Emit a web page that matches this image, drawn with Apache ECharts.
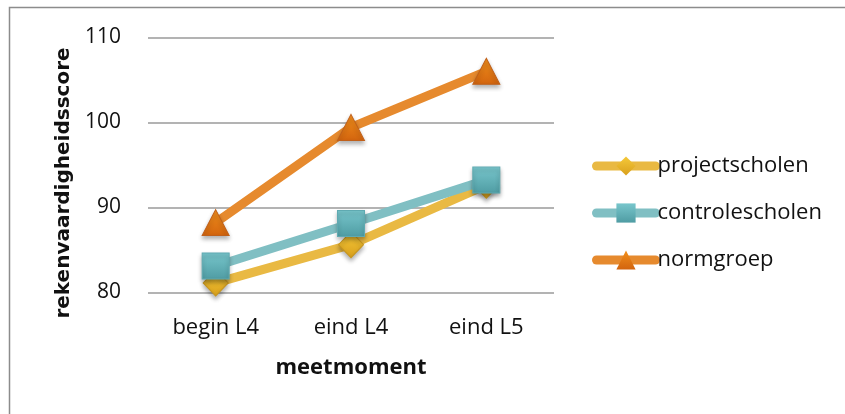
<!DOCTYPE html>
<html>
<head>
<meta charset="utf-8">
<script src="https://cdn.jsdelivr.net/npm/echarts@6/dist/echarts.min.js"></script>
<style>
html,body{margin:0;padding:0;background:#fff;}
#chart{width:845px;height:414px;}
</style>
</head>
<body>
<div id="chart"></div>
<script>
var categories = ['begin L4', 'eind L4', 'eind L5'];
var projectscholen = [81.1, 85.6, 92.6];
var controlescholen = [83.1, 88.1, 93.2];
var normgroep = [88.2, 99.4, 106.0];
var yTicks = [80, 90, 100, 110];
var yTitle = 'rekenvaardigheidsscore';
var xTitle = 'meetmoment';

var chart = echarts.init(document.getElementById('chart'), null, {renderer: 'canvas'});
var labelFont = '"Open Sans", sans-serif';

function grad(top, bottom) {
  return new echarts.graphic.LinearGradient(0, 0, 0, 1, [
    {offset: 0, color: top}, {offset: 1, color: bottom}
  ]);
}
var shadow = {shadowBlur: 4, shadowOffsetY: 3, shadowColor: 'rgba(0,0,0,0.3)'};

function mkSeries(name, data, lineColor, symbol, size, fillTop, fillBottom, border) {
  return {
    name: name,
    type: 'line',
    data: data,
    symbol: symbol,
    symbolSize: size,
    showAllSymbol: true,
    lineStyle: {color: lineColor, width: 9, cap: 'round', join: 'round'},
    itemStyle: Object.assign({color: grad(fillTop, fillBottom), borderColor: border, borderWidth: 1}, shadow),
    emphasis: {disabled: true},
    animation: false
  };
}

var option = {
  backgroundColor: '#ffffff',
  animation: false,
  grid: {left: 148, right: 291, top: 37.3, bottom: 121.7, containLabel: false},
  legend: {
    orient: 'vertical',
    left: 592,
    top: 155,
    padding: 0,
    itemWidth: 59,
    itemHeight: 24,
    itemGap: 25,
    lineStyle: {width: 9, cap: 'round'},
    itemStyle: {shadowBlur: 0, shadowOffsetY: 0, borderWidth: 0},
    textStyle: {fontFamily: labelFont, fontSize: 22, color: '#111', padding: [0, 0, 0, -3]},
    data: ['projectscholen', 'controlescholen', 'normgroep']
  },
  xAxis: {
    type: 'category',
    data: categories,
    boundaryGap: true,
    axisLine: {show: false},
    axisTick: {show: false},
    axisLabel: {fontFamily: labelFont, fontSize: 22, color: '#111', margin: 24},
    name: xTitle,
    nameLocation: 'middle',
    nameGap: 64,
    nameTextStyle: {fontFamily: labelFont, fontSize: 22, fontWeight: 'bold', color: '#111'}
  },
  yAxis: {
    type: 'value',
    min: 80,
    max: 110,
    interval: 10,
    axisLine: {show: false},
    axisTick: {show: false},
    axisLabel: {
      fontFamily: labelFont, fontSize: 21, color: '#111', margin: 27,
      formatter: function (v) { return yTicks.indexOf(v) >= 0 ? String(v) : ''; }
    },
    splitLine: {lineStyle: {color: '#9a9a9a', width: 1.5}}
  },
  graphic: [
    {
      type: 'rect',
      shape: {x: 9.5, y: 7.5, width: 900, height: 500},
      style: {fill: 'none', stroke: '#8c8c8c', lineWidth: 1.5},
      silent: true, z: -1
    },
    {
      type: 'text',
      x: 64, y: 183,
      rotation: Math.PI / 2,
      style: {
        text: yTitle,
        font: 'bold 20px "DejaVu Sans", sans-serif',
        fill: '#111',
        align: 'center',
        verticalAlign: 'middle'
      },
      silent: true
    }
  ],
  series: [
    mkSeries('projectscholen', projectscholen, '#E9B943', 'diamond', [25, 26], '#F5C93A', '#D9A01C', '#C8961E'),
    mkSeries('controlescholen', controlescholen, '#80BFC3', 'rect', [27, 26], '#78C6CC', '#4F9CA3', '#5FAAB1'),
    mkSeries('normgroep', normgroep, '#E68A2E', 'triangle', [27, 26], '#F2901C', '#D2640E', '#C0601A')
  ]
};
chart.setOption(option);
</script>
</body>
</html>
